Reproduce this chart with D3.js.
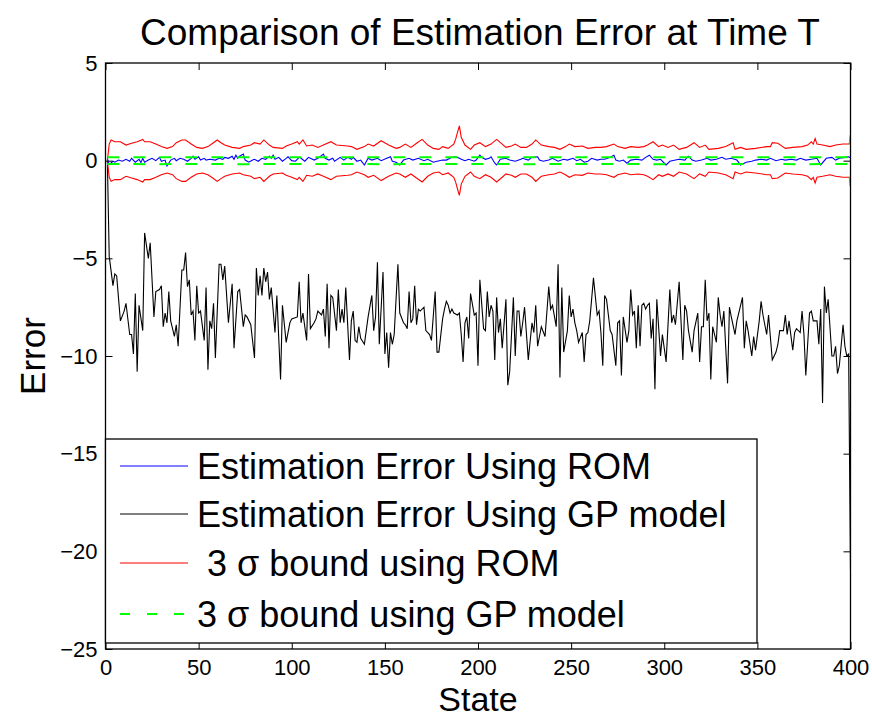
<!DOCTYPE html>
<html><head><meta charset="utf-8">
<script src="https://cdn.jsdelivr.net/npm/d3@7"></script>
<style>
body{margin:0;background:#fff}
text{font-family:"Liberation Sans",Arial,Helvetica,sans-serif;fill:#000}
</style>
</head><body>
<svg id="chart" width="872" height="719"></svg>
<script>
// ---------- data (state, value) ----------
const titleText = "Comparison of Estimation Error at Time T";
const xLabel = "State";
const yLabel = "Error";
const xTicks = [0,50,100,150,200,250,300,350,400];
const yTicks = [5,0,-5,-10,-15,-20,-25];
const legendLabels = ["Estimation Error Using ROM","Estimation Error Using GP model"," 3 σ bound using ROM","3 σ bound using GP model"];

// Estimation error using ROM (blue)
const romError = [[1,0.12],[2,-0.2],[4,-0.03],[5,-0.08],[7,0.03],[9,-0.03],[11,0.07],[13,-0.03],[14,0.12],[16,-0.08],[18,0.07],[19,-0.1],[20,0.12],[21,-0.08],[23,0.03],[25,0.12],[27,0],[29,0.17],[30,-0.03],[32,0.03],[33,-0.27],[35,0.03],[37,0.12],[38,0],[40,0.12],[42,0.07],[44,-0.03],[46,0.12],[47,0.23],[48,0.07],[50,0.2],[51,0.03],[53,0.12],[54,0.03],[56,0.07],[59,0.03],[61,0.12],[63,0.07],[64,0.17],[66,0.12],[68,0.23],[69,0.07],[70,0.28],[71,0.12],[72,0.23],[74,0.34],[75,0.03],[77,-0.08],[79,0.03],[80,0.07],[82,-0.03],[84,0.12],[86,0.07],[88,0.23],[89,0.12],[90,0.28],[91,0.07],[93,0.17],[95,-0.03],[97,0.12],[98,0.2],[100,0],[102,-0.03],[104,0.17],[105,0.12],[107,-0.03],[109,0.17],[112,0.03],[114,0.12],[117,0.34],[118,0.12],[120,0.03],[122,0.12],[123,-0.03],[126,0.17],[128,0.03],[130,0.17],[132,0.07],[133,0.17],[135,-0.03],[137,0.03],[139,-0.22],[141,0.12],[143,0.03],[146,0.12],[148,0],[151,0.12],[153,0.2],[154,-0.03],[156,-0.08],[158,-0.22],[160,0.03],[163,0.12],[165,0.03],[168,0.12],[171,0],[173,0.07],[176,-0.08],[178,-0.03],[181,0.03],[183,0.03],[186,0.17],[188,0.2],[190,0.12],[191,0.07],[193,0],[195,0.07],[198,-0.03],[199,0.03],[201,0.28],[202,0.17],[204,0.07],[206,0.12],[207,0.2],[209,-0.13],[210,-0.22],[212,0.07],[215,0.12],[217,0.03],[220,-0.03],[223,0.07],[224,0.12],[227,0.03],[229,0.17],[232,0.2],[233,0.03],[235,-0.03],[238,0.03],[240,0.12],[243,-0.03],[246,0.07],[248,0.03],[251,0.12],[253,0],[255,0.07],[257,-0.08],[259,-0.03],[261,0.12],[264,0.03],[266,0.07],[268,0.07],[271,0.17],[273,0.28],[274,0.03],[276,-0.03],[278,0.03],[280,-0.13],[282,0.03],[285,0.07],[288,0.03],[290,0.17],[292,0.28],[294,0.07],[296,0.03],[298,0.07],[301,-0.22],[303,-0.03],[306,0.03],[308,0.07],[311,0.03],[313,0.23],[315,0.03],[317,-0.03],[320,0.03],[323,0.12],[325,0.03],[328,0.07],[331,0.17],[333,0.07],[336,0.12],[339,0.03],[341,-0.22],[344,-0.08],[347,-0.03],[349,0.03],[352,0.07],[355,0.03],[357,0.12],[360,0],[363,0.07],[365,0.03],[368,0.07],[371,0.03],[373,0.12],[376,0.03],[379,0.07],[382,0.12],[384,-0.22],[387,0.12],[390,0.17],[392,0.03],[394,0.12],[397,0.17],[399,0.2],[400,0.15]];

// Estimation error using GP model (black)
const gpError = [[1,0],[2,-4.9],[4,-6.4],[5,-5.8],[6,-5.9],[8,-8.2],[10,-7.7],[11,-7.3],[13,-8.9],[14,-8.9],[15,-9.9],[16,-6.8],[17,-10.8],[18,-7.4],[20,-8.7],[21,-3.7],[23,-5],[24,-4.2],[26,-8],[27,-6.7],[29,-6.6],[30,-6.4],[31,-8.5],[32,-7.8],[33,-8.3],[34,-6.7],[35,-8.2],[37,-9],[38,-8.4],[39,-9.5],[41,-5.6],[42,-5.6],[43,-4.7],[44,-6.45],[45,-6.1],[46,-7.9],[47,-7.7],[48,-9.2],[49,-6.4],[50,-7.8],[51,-7.7],[53,-9.2],[54,-6.5],[55,-10.7],[56,-8.2],[57,-8.6],[58,-7.3],[59,-10.1],[61,-5.3],[62,-5.3],[63,-6.1],[64,-5.4],[66,-8.3],[68,-6.3],[69,-9.6],[71,-6.7],[72,-6.6],[74,-8.5],[75,-7.9],[76,-8],[78,-8.4],[80,-10.1],[81,-5.5],[82,-6.9],[83,-5.9],[84,-6.9],[85,-5.5],[86,-6.2],[87,-5.7],[88,-7.1],[89,-6.5],[91,-8.8],[92,-6.9],[94,-11.2],[95,-7.4],[97,-9.3],[99,-8.3],[100,-8.1],[103,-8],[104,-6.2],[105,-8.3],[106,-7.8],[108,-9.2],[109,-5.8],[110,-8.6],[112,-8.3],[113,-8.1],[114,-7.7],[116,-7.9],[117,-7.6],[118,-9.0],[119,-6.3],[120,-9.6],[121,-6.9],[122,-7],[124,-8.7],[125,-6.6],[126,-8.3],[127,-7.6],[128,-8.3],[129,-6.5],[131,-10.2],[132,-8.2],[133,-7.7],[134,-9.2],[135,-9.3],[136,-8.5],[137,-9.1],[139,-9.4],[141,-8],[143,-6.9],[144,-8.7],[145,-8],[146,-5.2],[147,-9.4],[149,-5.7],[150,-9.9],[151,-8.8],[152,-10.6],[153,-8.8],[154,-9.4],[155,-8.9],[157,-5.3],[158,-7.8],[160,-8.3],[161,-8.4],[162,-8.6],[163,-6.7],[164,-8.3],[165,-8.1],[166,-6.4],[167,-8.4],[168,-7.6],[169,-7.7],[171,-7.5],[172,-8.7],[174,-8.9],[175,-9.2],[177,-6.7],[178,-9.8],[179,-9.8],[181,-8.1],[182,-7.6],[183,-7.2],[184,-7.4],[185,-7.8],[186,-7.6],[187,-7.8],[189,-7.9],[190,-7.8],[191,-8.9],[192,-10.3],[193,-8.3],[194,-8],[195,-9.1],[196,-6.8],[198,-7.9],[199,-7.8],[200,-10.5],[201,-6.1],[203,-8.6],[204,-8.7],[205,-6.7],[206,-8],[207,-7.4],[208,-7.7],[209,-10.2],[210,-7],[211,-8.8],[212,-8.1],[213,-9.6],[215,-7.1],[216,-11.5],[217,-10.8],[219,-7],[220,-10],[221,-7.7],[222,-7.7],[223,-9],[224,-8.3],[225,-7.5],[227,-10.2],[229,-8.3],[230,-8.8],[231,-7.4],[232,-9.5],[234,-8.5],[236,-9],[238,-6.45],[239,-7.6],[240,-7.4],[242,-8.5],[243,-5.3],[244,-11.1],[245,-6.5],[246,-9.8],[248,-8.7],[249,-6.9],[250,-8],[251,-7.6],[252,-8.3],[253,-8.7],[254,-9.3],[256,-8.8],[257,-10.3],[258,-8.9],[259,-8.8],[260,-8.2],[262,-6],[264,-7.9],[265,-7.7],[266,-8.8],[267,-10.5],[268,-6.9],[269,-7.1],[271,-8.7],[272,-8.9],[274,-10.5],[275,-8.3],[276,-8.2],[277,-11],[278,-8],[280,-9.3],[281,-8.7],[282,-6.6],[283,-7.9],[284,-7.7],[285,-9.6],[286,-7.4],[287,-9.5],[288,-7.4],[289,-7.3],[290,-7.6],[291,-7.4],[292,-7.3],[293,-9.1],[294,-8.1],[295,-11.7],[296,-7.1],[298,-10],[299,-8.9],[301,-10.3],[303,-6.6],[304,-8.3],[305,-7.9],[306,-8.4],[308,-6.2],[310,-10.2],[311,-7.4],[312,-7.7],[313,-8.7],[315,-9.8],[316,-8.7],[318,-7.8],[319,-10.3],[320,-8.5],[321,-8.5],[322,-6.1],[323,-8.2],[324,-7.8],[325,-11.2],[326,-8.5],[328,-9.3],[329,-7],[330,-7.9],[331,-8.5],[332,-7.7],[334,-11.4],[335,-7.5],[336,-8],[338,-8.9],[339,-8.2],[340,-7.8],[342,-7],[343,-9.6],[344,-8.2],[345,-8.7],[347,-10],[348,-9],[349,-9.7],[351,-8.2],[352,-7.2],[353,-7.9],[355,-8.9],[356,-7.9],[358,-10.2],[360,-9.8],[361,-9.4],[362,-8.7],[364,-8.7],[365,-7.9],[366,-8.9],[367,-8.2],[369,-9.7],[370,-8.8],[371,-8.6],[373,-8.8],[374,-7.7],[375,-8.9],[376,-11],[378,-7.8],[379,-7.7],[380,-8.2],[382,-8.2],[383,-9.4],[384,-7.6],[385,-12.4],[386,-6.45],[387,-7.8],[388,-7.1],[390,-10],[391,-10],[392,-9.5],[393,-10.9],[394,-10.5],[396,-8.4],[397,-9.5],[398,-10],[399,-9.9],[400,-21]];

// 3 sigma bound using ROM (red, drawn as +/-)
const romSigma3 = [[1,0],[2,0.85],[3,1.06],[5,0.97],[8,0.97],[11,0.8],[14,0.89],[17,0.97],[20,1.09],[21,0.97],[24,0.97],[27,0.85],[30,0.72],[33,0.63],[36,0.72],[38,0.92],[41,1.06],[43,1.06],[46,0.85],[49,0.68],[52,0.63],[55,0.72],[57,0.85],[60,1.06],[62,0.92],[64,0.8],[68,0.68],[72,0.63],[74,0.72],[78,0.8],[80,0.92],[83,0.85],[85,1.06],[88,0.8],[90,0.68],[95,0.63],[97,0.75],[100,0.85],[103,0.97],[104,0.85],[106,1.06],[108,0.75],[111,0.8],[114,0.68],[117,0.8],[121,0.97],[124,0.8],[130,0.75],[132,0.72],[135,0.58],[139,0.72],[141,0.85],[144,0.75],[148,1.02],[152,0.8],[156,0.63],[158,0.68],[161,0.85],[164,0.68],[167,0.89],[170,1.09],[173,0.8],[176,0.63],[179,0.58],[181,0.72],[184,0.63],[187,0.85],[188,1.1],[189,1.45],[190,1.78],[191,1.2],[193,0.8],[196,0.58],[198,0.8],[201,0.92],[204,0.72],[207,0.85],[210,1.09],[213,0.85],[215,0.68],[218,0.75],[220,0.85],[223,0.68],[226,0.68],[229,0.85],[231,1.06],[234,0.8],[238,0.72],[241,0.68],[244,0.58],[247,0.72],[249,0.85],[252,0.72],[256,0.75],[259,0.63],[263,0.68],[266,0.68],[269,0.72],[273,0.85],[275,0.72],[279,0.63],[282,0.72],[286,0.68],[289,0.72],[291,0.8],[294,0.97],[297,0.72],[299,0.8],[302,0.68],[305,0.8],[308,0.58],[312,0.68],[316,0.92],[319,0.68],[322,0.8],[324,0.58],[329,0.63],[333,0.72],[337,0.92],[338,0.58],[341,0.68],[344,0.58],[349,0.63],[355,0.72],[357,0.72],[358,0.92],[361,0.89],[365,0.63],[369,0.68],[374,0.72],[377,0.8],[379,0.97],[380,0.85],[381,1.14],[382,0.85],[385,0.8],[389,0.72],[392,0.8],[396,0.85],[399,0.85],[400,0.9]];

// 3 sigma bound using GP model (green dashed, drawn as +/-)
const gpSigma3 = [[1,0.17],[25,0.18],[50,0.17],[75,0.18],[100,0.17],[125,0.17],[150,0.18],[175,0.17],[200,0.17],[225,0.18],[250,0.17],[275,0.17],[300,0.18],[325,0.17],[350,0.17],[375,0.18],[399,0.17],[400,1.3]];

// ---------- drawing ----------
const svg = d3.select("#chart");
const L = 105.5, R = 850.5, T = 63, B = 649;
const x = d3.scaleLinear().domain([0,400]).range([L,R]);
const y = d3.scaleLinear().domain([-25,5]).range([B,T]);

svg.append("rect").attr("width",872).attr("height",719).attr("fill","#fff");

svg.append("defs").append("clipPath").attr("id","clip")
  .append("rect").attr("x",L).attr("y",T).attr("width",R-L).attr("height",B-T);

const plot = svg.append("g").attr("clip-path","url(#clip)");
const line = d3.line().x(d=>x(d[0])).y(d=>y(d[1]));
const neg = arr => arr.map(d=>[d[0],-d[1]]);

plot.append("path").datum(romError).attr("d",line)
  .attr("fill","none").attr("stroke","#0000ff").attr("stroke-width",1.1);
plot.append("path").datum(gpError).attr("d",line)
  .attr("fill","none").attr("stroke","#000").attr("stroke-width",1.1);
[romSigma3, neg(romSigma3)].forEach(s=>{
  plot.append("path").datum(s).attr("d",line)
    .attr("fill","none").attr("stroke","#ff0000").attr("stroke-width",1.1);
});
[gpSigma3, neg(gpSigma3)].forEach(s=>{
  plot.append("path").datum(s).attr("d",line)
    .attr("fill","none").attr("stroke","#00ff00").attr("stroke-width",2)
    .attr("stroke-dasharray","12,14");
});

// axes
const fmt = d3.format("d");
function styleAxis(g){
  g.select(".domain").remove();
  g.selectAll(".tick line").attr("stroke","#000").attr("stroke-width",1);
  g.selectAll("text").attr("font-size",22).attr("fill","#000");
}
svg.append("g").attr("transform",`translate(0,${B})`)
  .call(d3.axisBottom(x).tickValues(xTicks).tickFormat(fmt).tickSize(-7).tickPadding(10)).call(styleAxis);
svg.append("g").attr("transform",`translate(0,${T})`)
  .call(d3.axisTop(x).tickValues(xTicks).tickFormat("").tickSize(-7)).call(styleAxis);
svg.append("g").attr("transform",`translate(${L},0)`)
  .call(d3.axisLeft(y).tickValues(yTicks).tickFormat(fmt).tickSize(-7).tickPadding(8)).call(styleAxis);
svg.append("g").attr("transform",`translate(${R},0)`)
  .call(d3.axisRight(y).tickValues(yTicks).tickFormat("").tickSize(-7)).call(styleAxis);
svg.append("rect").attr("x",L).attr("y",T).attr("width",R-L).attr("height",B-T)
  .attr("fill","none").attr("stroke","#000").attr("stroke-width",1.3);

// title & labels
svg.append("text").attr("x",(L+R)/2+2).attr("y",45).attr("text-anchor","middle")
  .attr("font-size",37).text(titleText);
svg.append("text").attr("x",(L+R)/2).attr("y",711).attr("text-anchor","middle")
  .attr("font-size",34).text(xLabel);
svg.append("text").attr("transform",`translate(45,${(T+B)/2}) rotate(-90)`)
  .attr("text-anchor","middle").attr("font-size",35).text(yLabel);

// legend
const lg = svg.append("g");
lg.append("rect").attr("x",105.5).attr("y",439).attr("width",651.5).attr("height",204)
  .attr("fill","#fff").attr("stroke","#000").attr("stroke-width",1.3);
const legendColors = ["#0000ff","#000000","#ff0000","#00ff00"];
const legendDash = [null,null,null,"10,17"];
const rowY = [466,514,563,614];
legendLabels.forEach((lab,i)=>{
  lg.append("line").attr("x1",120).attr("x2",188).attr("y1",rowY[i]).attr("y2",rowY[i])
    .attr("stroke",legendColors[i]).attr("stroke-width",i===3?2:1.1)
    .attr("stroke-dasharray",legendDash[i]);
  lg.append("text").attr("x",197).attr("y",rowY[i]+13).attr("font-size",36)
    .style("white-space","pre").text(lab);
});
</script>
</body></html>
